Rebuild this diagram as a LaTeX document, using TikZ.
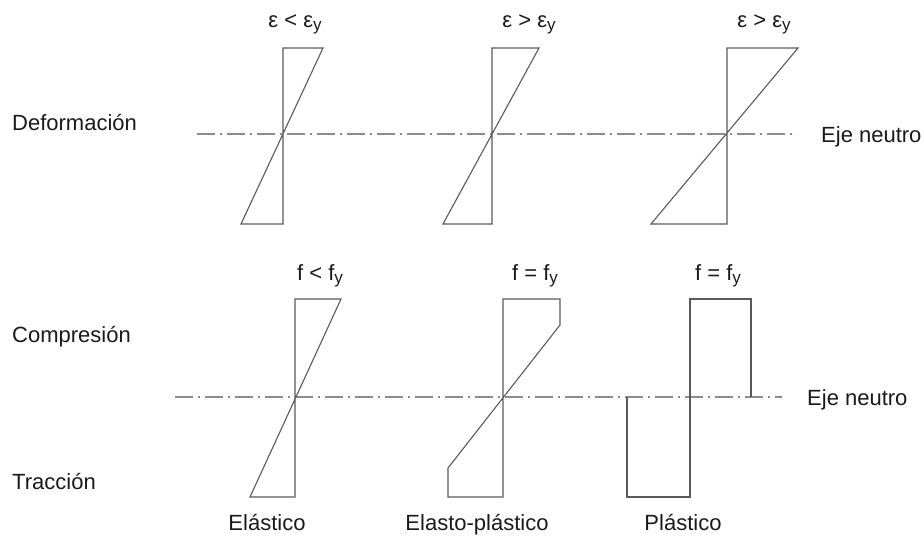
\documentclass[tikz,border=0pt]{standalone}
\usepackage{fontspec}
\setmainfont{Liberation Sans}
\usetikzlibrary{positioning}
\definecolor{stroke}{HTML}{5A5A5A}
\definecolor{axisgray}{HTML}{8C8C8C}
\definecolor{ink}{HTML}{1A1A1A}
\newcommand{\suby}{\raisebox{-3pt}{\fontsize{17}{17}\selectfont y}}

\begin{document}
\begin{tikzpicture}[
    x=1pt, y=-1pt,
    profile/.style={draw=stroke, line width=1.1pt, line join=miter},
    neutral/.style={draw=axisgray, line width=1.1pt, dash pattern=on 18pt off 5pt on 2pt off 5pt},
    every node/.style={text=ink, font=\fontsize{22}{25}\selectfont, inner sep=0pt}
]
\useasboundingbox (0,0) rectangle (924,536);

% Row titles
\node[anchor=base west] (def)  at (12,130) {Deformación};
\node[anchor=base west] (comp) at (12,342) {Compresión};
\node[anchor=base west] (trac) at (12,489) {Tracción};

% Neutral axes
\coordinate (axTa) at (197,134);
\coordinate (axTb) at (797,134);
\coordinate (axBa) at (175,397);
\coordinate (axBb) at (782,397);
\draw[neutral] (axTa) -- (axTb);
\draw[neutral] (axBa) -- (axBb);
\node[anchor=base west] (ejeT) at (821,142) {Eje neutro};
\node[anchor=base west] (ejeB) at (807,405) {Eje neutro};

% Strain profiles
\foreach \x/\r/\l in {283/40/42, 492/47/49, 727/71/76} {
  \draw[profile] (\x,48) -- ++(\r,0) -- (\x-\l,224) -- (\x,224) -- cycle;
}
\node[anchor=base] (epsA) at (295,27) {ε < ε\suby};
\node[anchor=base] (epsB) at (529,27) {ε > ε\suby};
\node[anchor=base] (epsC) at (764,27) {ε > ε\suby};

% Stress profiles
\draw[profile] (295,299) -- (341,299) -- (250,497) -- (295,497) -- cycle;
\draw[profile] (503,299) -- (560,299) -- (560,325) -- (448,468) -- (448,497) -- (503,497) -- cycle;
\draw[profile] (751,397) -- (751,299) -- (690,299) -- (690,497) -- (627,497) -- (627,397);
\node[anchor=base] (fA) at (320,280) {f < f\suby};
\node[anchor=base] (fB) at (535,280) {f = f\suby};
\node[anchor=base] (fC) at (718,280) {f = f\suby};

% Behaviour
\node[anchor=base] (ela)  at (267,530) {Elástico};
\node[anchor=base] (elpl) at (477,530) {Elasto-plástico};
\node[anchor=base] (pla)  at (683,530) {Plástico};
\end{tikzpicture}
\end{document}
